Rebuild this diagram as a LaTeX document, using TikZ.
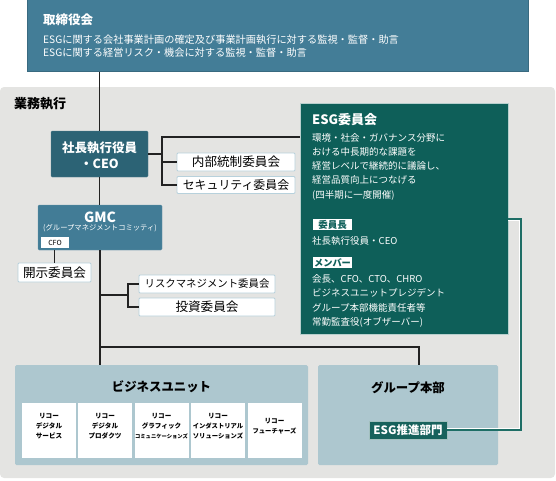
\documentclass[tikz,border=0pt]{standalone}
\usepackage{fontspec}
\setmainfont{Noto Sans CJK JP}
\usetikzlibrary{calc}
\definecolor{boardc}{HTML}{437D97}
\definecolor{ceoc}{HTML}{2C6375}
\definecolor{gmcc}{HTML}{427C96}
\definecolor{esgc}{HTML}{0E5F59}
\definecolor{grayc}{HTML}{E4E4E2}
\definecolor{bluec}{HTML}{ADC7CF}
\definecolor{bordc}{HTML}{B7D1DC}
\definecolor{linec}{HTML}{222222}
\definecolor{suishinc}{HTML}{17625C}
\definecolor{connc}{HTML}{1E6E66}
\newcommand{\fs}[1]{\fontsize{#1}{#1}\selectfont}
\begin{document}
\begin{tikzpicture}[x=1pt,y=-1pt,
  darkbox/.style={inner sep=0, rounded corners=1.2pt, draw=#1!80!white, fill=#1, line width=0.4pt},
  wbox/.style={inner sep=0, rounded corners=1pt, draw=bordc, fill=white, line width=0.9pt},
  bluebox/.style={inner sep=0, rounded corners=1.5pt, fill=bluec},
  txt/.style={inner sep=0, anchor=base west},
  ctxt/.style={inner sep=0, anchor=base},
  conn/.style={draw=linec, line width=1.2pt},
  wh/.style={text=white}]
\useasboundingbox (0,0) rectangle (556,480);
% background of the execution area
\node[inner sep=0, fill=grayc, rounded corners=4pt, minimum width=555pt, minimum height=391pt] (exec) at (277.5,282.5) {};
% board
\node[inner sep=0, fill=boardc, draw=boardc!85!black, line width=0.4pt, minimum width=501pt, minimum height=72pt] (board) at (277.5,35.5) {};
\node[txt, wh] (boardt) at (43,24.8) {\fs{12.5}\bfseries 取締役会};
\node[txt, wh] (boardl1) at (43,43.8) {\fs{10.2}ESGに関する会社事業計画の確定及び事業計画執行に対する監視・監督・助言};
\node[txt, wh] (boardl2) at (43,56.8) {\fs{10.2}ESGに関する経営リスク・機会に対する監視・監督・助言};
% exec title
\node[txt] (exect) at (14,108) {\fs{13}\bfseries 業務執行};
% CEO
\node[darkbox=ceoc, minimum width=97pt, minimum height=46pt] (ceo) at (99.5,154) {};
\node[ctxt, wh] (ceot1) at (99.5,152.5) {\fs{12.5}\bfseries 社長執行役員};
\node[ctxt, wh] (ceot2) at (99.5,168) {\fs{12.5}\bfseries ・CEO};
\node[wbox, minimum width=118pt, minimum height=18pt] (naibu) at (236,162) {\fs{12.6}内部統制委員会};
\node[wbox, minimum width=118pt, minimum height=17pt] (sec) at (236,185) {\fs{11.9}セキュリティ委員会};
% ESG committee
\node[inner sep=0, fill=esgc, draw=white!70!esgc, line width=0.6pt, minimum width=208pt, minimum height=231pt] (esg) at (404,218.5) {};
\node[txt, wh] (esgt) at (312,124.5) {\fs{13}\bfseries ESG委員会};
\foreach \t [count=\i from 0] in {{環境・社会・ガバナンス分野に},{おける中長期的な課題を},{経営レベルで継続的に議論し、},{経営品質向上につなげる},{(四半期に一度開催)}}
  \node[txt, wh, name=esgb\i] at (312,141+14.25*\i) {\fs{9.5}\t};
\node[inner sep=0, fill=white, minimum width=39pt, minimum height=11pt] (chairl) at (332.5,224.5) {\fs{9.5}\bfseries\color{esgc}委員長};
\node[txt, wh] (chair) at (312,244.5) {\fs{9.5}社長執行役員・CEO};
\node[inner sep=0, fill=white, minimum width=39pt, minimum height=11pt] (meml) at (332.5,262.5) {\fs{9.2}\bfseries\color{esgc}メンバー};
\foreach \t [count=\i from 0] in {{会長、CFO、CTO、CHRO},{ビジネスユニットプレジデント},{グループ本部機能責任者等},{常勤監査役(オブザーバー)}}
  \node[txt, wh, name=mem\i] at (312,282+14.5*\i) {\fs{9.5}\t};
% GMC
\node[darkbox=gmcc, minimum width=124pt, minimum height=45pt] (gmc) at (100,227.5) {};
\node[ctxt, wh] (gmct) at (100,222.3) {\fs{14}\bfseries GMC};
\node[ctxt, wh] (gmcs) at (100,230.8) {\fs{7.3}(グループマネジメントコミッティ)};
\node[inner sep=0, fill=white, minimum width=28pt, minimum height=11pt] (cfo) at (55,242.5) {\fs{7}CFO};
\node[wbox, minimum width=73pt, minimum height=19pt] (kaiji) at (54.5,272.5) {\fs{12.6}開示委員会};
\node[wbox, minimum width=136pt, minimum height=18pt] (risk) at (207,284) {\fs{10.4}リスクマネジメント委員会};
\node[wbox, minimum width=136pt, minimum height=18pt] (toushi) at (207,307) {\fs{12.6}投資委員会};
% business units
\node[bluebox, minimum width=293pt, minimum height=100pt] (bu) at (161.5,415) {};
\node[ctxt] (but) at (161.5,391.8) {\fs{12.4}\bfseries ビジネスユニット};
\foreach \x/\a/\b/\c/\s [count=\i] in {49/リコー/デジタル/サービス/6.5, 105/リコー/デジタル/プロダクツ/6.5, 161.5/リコー/グラフィック/コミュニケーションズ/5.3, 218/リコー/インダストリアル/ソリューションズ/6.3, 274.5/リコー/フューチャーズ//6.3}{
  \node[inner sep=0, fill=white, minimum width=54pt, minimum height=55pt, name=u\i] at (\x,430.5) {};
}
\node[ctxt] (u1a) at (u1.center) [yshift=12.3pt] {\fs{6.6}\bfseries リコー};
\node[ctxt] (u1b) at (u1.center) [yshift=2.2pt] {\fs{6.6}\bfseries デジタル};
\node[ctxt] (u1c) at (u1.center) [yshift=-8.3pt] {\fs{6.6}\bfseries サービス};
\node[ctxt] (u2a) at (u2.center) [yshift=12.3pt] {\fs{6.6}\bfseries リコー};
\node[ctxt] (u2b) at (u2.center) [yshift=2.2pt] {\fs{6.6}\bfseries デジタル};
\node[ctxt] (u2c) at (u2.center) [yshift=-8.3pt] {\fs{6.6}\bfseries プロダクツ};
\node[ctxt] (u3a) at (u3.center) [yshift=12.3pt] {\fs{6.6}\bfseries リコー};
\node[ctxt] (u3b) at (u3.center) [yshift=2.2pt] {\fs{6.6}\bfseries グラフィック};
\node[ctxt] (u3c) at (u3.center) [yshift=-8.3pt] {\fs{5.3}\bfseries コミュニケーションズ};
\node[ctxt] (u4a) at (u4.center) [yshift=12.3pt] {\fs{6.6}\bfseries リコー};
\node[ctxt] (u4b) at (u4.center) [yshift=2.2pt] {\fs{6.3}\bfseries インダストリアル};
\node[ctxt] (u4c) at (u4.center) [yshift=-8.3pt] {\fs{6.3}\bfseries ソリューションズ};
\node[ctxt] (u5a) at (u5.center) [yshift=7.3pt] {\fs{6.6}\bfseries リコー};
\node[ctxt] (u5b) at (u5.center) [yshift=-3.3pt] {\fs{6.3}\bfseries フューチャーズ};
% group headquarters
\node[bluebox, minimum width=180pt, minimum height=100pt] (hq) at (408,415) {};
\node[ctxt] (hqt) at (408,392.8) {\fs{12.4}\bfseries グループ本部};
\node[inner sep=0, fill=suishinc, draw=white!60!suishinc, line width=0.5pt, minimum width=78pt, minimum height=18pt] (suishin) at (408,430) {\fs{11.5}\bfseries\color{white}ESG推進部門};
% connectors
\coordinate (cj) at (162,154);
\coordinate (ct) at (162,137);
\coordinate (rj) at (128,295);
\coordinate (hqj) at (419,347);
\draw[conn] (board.south -| ceo.north) -- (ceo.north);
\draw[conn] (ceo.south) -- (ceo.south |- gmc.north);
\draw[conn] (gmc.south) -- (gmc.south |- bu.north);
\draw[conn] (ceo.east) -- (cj);
\draw[conn] (esg.west |- ct) -- (ct) -- (ct |- sec.west) -- (sec.west);
\draw[conn] (cj |- naibu.west) -- (naibu.west);
\draw[conn] (kaiji.north |- gmc.south) -- (kaiji.north);
\draw[conn] (gmc.south |- rj) -- (rj);
\draw[conn] (risk.west) -| (rj) |- (toushi.west);
\draw[conn] (gmc.south |- hqj) -- (hqj) -- (hqj |- hq.north);
\draw[white, line width=1pt] ([yshift=-1.3pt]esg.east |- 0,219) -- (519.7,220.3) -- (519.7,428.7) -- ([yshift=1.3pt]suishin.east);
\draw[connc, line width=1.1pt] (esg.east |- 0,219) -- (521,219) -- (521,430) -- (suishin.east);
\end{tikzpicture}
\end{document}
